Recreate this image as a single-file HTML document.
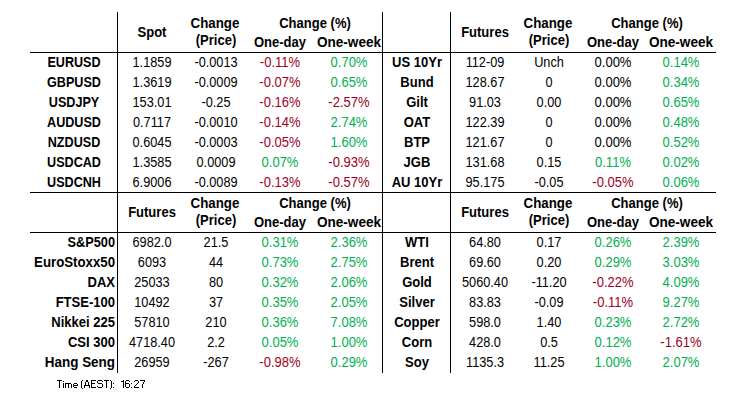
<!DOCTYPE html>
<html><head><meta charset="utf-8"><style>
html,body{margin:0;padding:0;background:#fff;}
body{width:733px;height:404px;position:relative;overflow:hidden;font-family:"Liberation Sans",sans-serif;font-size:14px;color:#000;}
.c{position:absolute;white-space:nowrap;height:20px;line-height:20px;text-align:center;transform-origin:center 0;}
.b{font-weight:bold;}
.ln{position:absolute;background:#000;}
.t{position:absolute;font-size:10px;line-height:20px;height:20px;white-space:nowrap;}
</style></head><body>
<div class="c b" style="left:71.9px;top:22px;width:160px;color:#000;transform:scaleX(0.93)">Spot</div>
<div class="c b" style="left:134.9px;top:13px;width:160px;color:#000;transform:scaleX(0.95)">Change</div>
<div class="c b" style="left:135.8px;top:30px;width:160px;color:#000;transform:scaleX(0.93)">(Price)</div>
<div class="c b" style="left:234.7px;top:13px;width:160px;color:#000;transform:scaleX(0.93)">Change (%)</div>
<div class="c b" style="left:200.3px;top:32px;width:160px;color:#000;transform:scaleX(0.93)">One-day</div>
<div class="c b" style="left:268.7px;top:32px;width:160px;color:#000;transform:scaleX(0.97)">One-week</div>
<div class="c b" style="left:404.9px;top:22px;width:160px;color:#000;transform:scaleX(0.93)">Futures</div>
<div class="c b" style="left:468px;top:13px;width:160px;color:#000;transform:scaleX(0.95)">Change</div>
<div class="c b" style="left:468.9px;top:30px;width:160px;color:#000;transform:scaleX(0.93)">(Price)</div>
<div class="c b" style="left:567.3px;top:13px;width:160px;color:#000;transform:scaleX(0.93)">Change (%)</div>
<div class="c b" style="left:533.3px;top:32px;width:160px;color:#000;transform:scaleX(0.93)">One-day</div>
<div class="c b" style="left:601.1px;top:32px;width:160px;color:#000;transform:scaleX(0.97)">One-week</div>
<div class="c b" style="left:-5.8px;top:52px;width:160px;color:#000;transform:scaleX(0.9)">EURUSD</div>
<div class="c" style="left:71.9px;top:52px;width:160px;color:#000;transform:scaleX(0.91)">1.1859</div>
<div class="c" style="left:135.8px;top:52px;width:160px;color:#000;transform:scaleX(0.91)">-0.0013</div>
<div class="c" style="left:200.3px;top:52px;width:160px;color:#A0001E;transform:scaleX(0.93)">-0.11%</div>
<div class="c" style="left:268.7px;top:52px;width:160px;color:#00B050;transform:scaleX(0.93)">0.70%</div>
<div class="c b" style="left:-5.8px;top:72px;width:160px;color:#000;transform:scaleX(0.9)">GBPUSD</div>
<div class="c" style="left:71.9px;top:72px;width:160px;color:#000;transform:scaleX(0.91)">1.3619</div>
<div class="c" style="left:135.8px;top:72px;width:160px;color:#000;transform:scaleX(0.91)">-0.0009</div>
<div class="c" style="left:200.3px;top:72px;width:160px;color:#A0001E;transform:scaleX(0.93)">-0.07%</div>
<div class="c" style="left:268.7px;top:72px;width:160px;color:#00B050;transform:scaleX(0.93)">0.65%</div>
<div class="c b" style="left:-5.8px;top:92px;width:160px;color:#000;transform:scaleX(0.9)">USDJPY</div>
<div class="c" style="left:71.9px;top:92px;width:160px;color:#000;transform:scaleX(0.91)">153.01</div>
<div class="c" style="left:135.8px;top:92px;width:160px;color:#000;transform:scaleX(0.91)">-0.25</div>
<div class="c" style="left:200.3px;top:92px;width:160px;color:#A0001E;transform:scaleX(0.93)">-0.16%</div>
<div class="c" style="left:268.7px;top:92px;width:160px;color:#A0001E;transform:scaleX(0.93)">-2.57%</div>
<div class="c b" style="left:-5.8px;top:112px;width:160px;color:#000;transform:scaleX(0.9)">AUDUSD</div>
<div class="c" style="left:71.9px;top:112px;width:160px;color:#000;transform:scaleX(0.91)">0.7117</div>
<div class="c" style="left:135.8px;top:112px;width:160px;color:#000;transform:scaleX(0.91)">-0.0010</div>
<div class="c" style="left:200.3px;top:112px;width:160px;color:#A0001E;transform:scaleX(0.93)">-0.14%</div>
<div class="c" style="left:268.7px;top:112px;width:160px;color:#00B050;transform:scaleX(0.93)">2.74%</div>
<div class="c b" style="left:-5.8px;top:132px;width:160px;color:#000;transform:scaleX(0.9)">NZDUSD</div>
<div class="c" style="left:71.9px;top:132px;width:160px;color:#000;transform:scaleX(0.91)">0.6045</div>
<div class="c" style="left:135.8px;top:132px;width:160px;color:#000;transform:scaleX(0.91)">-0.0003</div>
<div class="c" style="left:200.3px;top:132px;width:160px;color:#A0001E;transform:scaleX(0.93)">-0.05%</div>
<div class="c" style="left:268.7px;top:132px;width:160px;color:#00B050;transform:scaleX(0.93)">1.60%</div>
<div class="c b" style="left:-5.8px;top:152px;width:160px;color:#000;transform:scaleX(0.9)">USDCAD</div>
<div class="c" style="left:71.9px;top:152px;width:160px;color:#000;transform:scaleX(0.91)">1.3585</div>
<div class="c" style="left:135.8px;top:152px;width:160px;color:#000;transform:scaleX(0.91)">0.0009</div>
<div class="c" style="left:200.3px;top:152px;width:160px;color:#00B050;transform:scaleX(0.93)">0.07%</div>
<div class="c" style="left:268.7px;top:152px;width:160px;color:#A0001E;transform:scaleX(0.93)">-0.93%</div>
<div class="c b" style="left:-5.8px;top:172px;width:160px;color:#000;transform:scaleX(0.9)">USDCNH</div>
<div class="c" style="left:71.9px;top:172px;width:160px;color:#000;transform:scaleX(0.91)">6.9006</div>
<div class="c" style="left:135.8px;top:172px;width:160px;color:#000;transform:scaleX(0.91)">-0.0089</div>
<div class="c" style="left:200.3px;top:172px;width:160px;color:#A0001E;transform:scaleX(0.93)">-0.13%</div>
<div class="c" style="left:268.7px;top:172px;width:160px;color:#A0001E;transform:scaleX(0.93)">-0.57%</div>
<div class="c b" style="left:336.7px;top:52px;width:160px;color:#000;transform:scaleX(0.93)">US 10Yr</div>
<div class="c" style="left:404.9px;top:52px;width:160px;color:#000;transform:scaleX(0.91)">112-09</div>
<div class="c" style="left:468.9px;top:52px;width:160px;color:#000;transform:scaleX(0.91)">Unch</div>
<div class="c" style="left:533.3px;top:52px;width:160px;color:#000;transform:scaleX(0.93)">0.00%</div>
<div class="c" style="left:601.1px;top:52px;width:160px;color:#00B050;transform:scaleX(0.93)">0.14%</div>
<div class="c b" style="left:336.7px;top:72px;width:160px;color:#000;transform:scaleX(0.93)">Bund</div>
<div class="c" style="left:404.9px;top:72px;width:160px;color:#000;transform:scaleX(0.91)">128.67</div>
<div class="c" style="left:468.9px;top:72px;width:160px;color:#000;transform:scaleX(0.91)">0</div>
<div class="c" style="left:533.3px;top:72px;width:160px;color:#000;transform:scaleX(0.93)">0.00%</div>
<div class="c" style="left:601.1px;top:72px;width:160px;color:#00B050;transform:scaleX(0.93)">0.34%</div>
<div class="c b" style="left:336.7px;top:92px;width:160px;color:#000;transform:scaleX(0.93)">Gilt</div>
<div class="c" style="left:404.9px;top:92px;width:160px;color:#000;transform:scaleX(0.91)">91.03</div>
<div class="c" style="left:468.9px;top:92px;width:160px;color:#000;transform:scaleX(0.91)">0.00</div>
<div class="c" style="left:533.3px;top:92px;width:160px;color:#000;transform:scaleX(0.93)">0.00%</div>
<div class="c" style="left:601.1px;top:92px;width:160px;color:#00B050;transform:scaleX(0.93)">0.65%</div>
<div class="c b" style="left:336.7px;top:112px;width:160px;color:#000;transform:scaleX(0.93)">OAT</div>
<div class="c" style="left:404.9px;top:112px;width:160px;color:#000;transform:scaleX(0.91)">122.39</div>
<div class="c" style="left:468.9px;top:112px;width:160px;color:#000;transform:scaleX(0.91)">0</div>
<div class="c" style="left:533.3px;top:112px;width:160px;color:#000;transform:scaleX(0.93)">0.00%</div>
<div class="c" style="left:601.1px;top:112px;width:160px;color:#00B050;transform:scaleX(0.93)">0.48%</div>
<div class="c b" style="left:336.7px;top:132px;width:160px;color:#000;transform:scaleX(0.93)">BTP</div>
<div class="c" style="left:404.9px;top:132px;width:160px;color:#000;transform:scaleX(0.91)">121.67</div>
<div class="c" style="left:468.9px;top:132px;width:160px;color:#000;transform:scaleX(0.91)">0</div>
<div class="c" style="left:533.3px;top:132px;width:160px;color:#000;transform:scaleX(0.93)">0.00%</div>
<div class="c" style="left:601.1px;top:132px;width:160px;color:#00B050;transform:scaleX(0.93)">0.52%</div>
<div class="c b" style="left:336.7px;top:152px;width:160px;color:#000;transform:scaleX(0.93)">JGB</div>
<div class="c" style="left:404.9px;top:152px;width:160px;color:#000;transform:scaleX(0.91)">131.68</div>
<div class="c" style="left:468.9px;top:152px;width:160px;color:#000;transform:scaleX(0.91)">0.15</div>
<div class="c" style="left:533.3px;top:152px;width:160px;color:#00B050;transform:scaleX(0.93)">0.11%</div>
<div class="c" style="left:601.1px;top:152px;width:160px;color:#00B050;transform:scaleX(0.93)">0.02%</div>
<div class="c b" style="left:336.7px;top:172px;width:160px;color:#000;transform:scaleX(0.93)">AU 10Yr</div>
<div class="c" style="left:404.9px;top:172px;width:160px;color:#000;transform:scaleX(0.91)">95.175</div>
<div class="c" style="left:468.9px;top:172px;width:160px;color:#000;transform:scaleX(0.91)">-0.05</div>
<div class="c" style="left:533.3px;top:172px;width:160px;color:#A0001E;transform:scaleX(0.93)">-0.05%</div>
<div class="c" style="left:601.1px;top:172px;width:160px;color:#00B050;transform:scaleX(0.93)">0.06%</div>
<div class="c b" style="left:71.9px;top:202px;width:160px;color:#000;transform:scaleX(0.93)">Futures</div>
<div class="c b" style="left:134.9px;top:193px;width:160px;color:#000;transform:scaleX(0.95)">Change</div>
<div class="c b" style="left:135.8px;top:210px;width:160px;color:#000;transform:scaleX(0.93)">(Price)</div>
<div class="c b" style="left:234.7px;top:193px;width:160px;color:#000;transform:scaleX(0.93)">Change (%)</div>
<div class="c b" style="left:200.3px;top:212px;width:160px;color:#000;transform:scaleX(0.93)">One-day</div>
<div class="c b" style="left:268.7px;top:212px;width:160px;color:#000;transform:scaleX(0.97)">One-week</div>
<div class="c b" style="left:404.9px;top:202px;width:160px;color:#000;transform:scaleX(0.93)">Futures</div>
<div class="c b" style="left:468px;top:193px;width:160px;color:#000;transform:scaleX(0.95)">Change</div>
<div class="c b" style="left:468.9px;top:210px;width:160px;color:#000;transform:scaleX(0.93)">(Price)</div>
<div class="c b" style="left:567.3px;top:193px;width:160px;color:#000;transform:scaleX(0.93)">Change (%)</div>
<div class="c b" style="left:533.3px;top:212px;width:160px;color:#000;transform:scaleX(0.93)">One-day</div>
<div class="c b" style="left:601.1px;top:212px;width:160px;color:#000;transform:scaleX(0.97)">One-week</div>
<div class="c b" style="left:-44.8px;top:232px;width:160px;text-align:right;transform-origin:right 0;color:#000;transform:scaleX(0.91)">S&amp;P500</div>
<div class="c" style="left:71.9px;top:232px;width:160px;color:#000;transform:scaleX(0.91)">6982.0</div>
<div class="c" style="left:135.8px;top:232px;width:160px;color:#000;transform:scaleX(0.91)">21.5</div>
<div class="c" style="left:200.3px;top:232px;width:160px;color:#00B050;transform:scaleX(0.93)">0.31%</div>
<div class="c" style="left:268.7px;top:232px;width:160px;color:#00B050;transform:scaleX(0.93)">2.36%</div>
<div class="c b" style="left:-44.8px;top:252px;width:160px;text-align:right;transform-origin:right 0;color:#000;transform:scaleX(0.945)">EuroStoxx50</div>
<div class="c" style="left:71.9px;top:252px;width:160px;color:#000;transform:scaleX(0.91)">6093</div>
<div class="c" style="left:135.8px;top:252px;width:160px;color:#000;transform:scaleX(0.91)">44</div>
<div class="c" style="left:200.3px;top:252px;width:160px;color:#00B050;transform:scaleX(0.93)">0.73%</div>
<div class="c" style="left:268.7px;top:252px;width:160px;color:#00B050;transform:scaleX(0.93)">2.75%</div>
<div class="c b" style="left:-44.8px;top:272px;width:160px;text-align:right;transform-origin:right 0;color:#000;transform:scaleX(0.93)">DAX</div>
<div class="c" style="left:71.9px;top:272px;width:160px;color:#000;transform:scaleX(0.91)">25033</div>
<div class="c" style="left:135.8px;top:272px;width:160px;color:#000;transform:scaleX(0.91)">80</div>
<div class="c" style="left:200.3px;top:272px;width:160px;color:#00B050;transform:scaleX(0.93)">0.32%</div>
<div class="c" style="left:268.7px;top:272px;width:160px;color:#00B050;transform:scaleX(0.93)">2.06%</div>
<div class="c b" style="left:-44.8px;top:292px;width:160px;text-align:right;transform-origin:right 0;color:#000;transform:scaleX(0.93)">FTSE-100</div>
<div class="c" style="left:71.9px;top:292px;width:160px;color:#000;transform:scaleX(0.91)">10492</div>
<div class="c" style="left:135.8px;top:292px;width:160px;color:#000;transform:scaleX(0.91)">37</div>
<div class="c" style="left:200.3px;top:292px;width:160px;color:#00B050;transform:scaleX(0.93)">0.35%</div>
<div class="c" style="left:268.7px;top:292px;width:160px;color:#00B050;transform:scaleX(0.93)">2.05%</div>
<div class="c b" style="left:-44.8px;top:312px;width:160px;text-align:right;transform-origin:right 0;color:#000;transform:scaleX(0.93)">Nikkei 225</div>
<div class="c" style="left:71.9px;top:312px;width:160px;color:#000;transform:scaleX(0.91)">57810</div>
<div class="c" style="left:135.8px;top:312px;width:160px;color:#000;transform:scaleX(0.91)">210</div>
<div class="c" style="left:200.3px;top:312px;width:160px;color:#00B050;transform:scaleX(0.93)">0.36%</div>
<div class="c" style="left:268.7px;top:312px;width:160px;color:#00B050;transform:scaleX(0.93)">7.08%</div>
<div class="c b" style="left:-44.8px;top:332px;width:160px;text-align:right;transform-origin:right 0;color:#000;transform:scaleX(0.93)">CSI 300</div>
<div class="c" style="left:71.9px;top:332px;width:160px;color:#000;transform:scaleX(0.91)">4718.40</div>
<div class="c" style="left:135.8px;top:332px;width:160px;color:#000;transform:scaleX(0.91)">2.2</div>
<div class="c" style="left:200.3px;top:332px;width:160px;color:#00B050;transform:scaleX(0.93)">0.05%</div>
<div class="c" style="left:268.7px;top:332px;width:160px;color:#00B050;transform:scaleX(0.93)">1.00%</div>
<div class="c b" style="left:-44.8px;top:352px;width:160px;text-align:right;transform-origin:right 0;color:#000;transform:scaleX(0.96)">Hang Seng</div>
<div class="c" style="left:71.9px;top:352px;width:160px;color:#000;transform:scaleX(0.91)">26959</div>
<div class="c" style="left:135.8px;top:352px;width:160px;color:#000;transform:scaleX(0.91)">-267</div>
<div class="c" style="left:200.3px;top:352px;width:160px;color:#A0001E;transform:scaleX(0.93)">-0.98%</div>
<div class="c" style="left:268.7px;top:352px;width:160px;color:#00B050;transform:scaleX(0.93)">0.29%</div>
<div class="c b" style="left:336.7px;top:232px;width:160px;color:#000;transform:scaleX(0.93)">WTI</div>
<div class="c" style="left:404.9px;top:232px;width:160px;color:#000;transform:scaleX(0.91)">64.80</div>
<div class="c" style="left:468.9px;top:232px;width:160px;color:#000;transform:scaleX(0.91)">0.17</div>
<div class="c" style="left:533.3px;top:232px;width:160px;color:#00B050;transform:scaleX(0.93)">0.26%</div>
<div class="c" style="left:601.1px;top:232px;width:160px;color:#00B050;transform:scaleX(0.93)">2.39%</div>
<div class="c b" style="left:336.7px;top:252px;width:160px;color:#000;transform:scaleX(0.93)">Brent</div>
<div class="c" style="left:404.9px;top:252px;width:160px;color:#000;transform:scaleX(0.91)">69.60</div>
<div class="c" style="left:468.9px;top:252px;width:160px;color:#000;transform:scaleX(0.91)">0.20</div>
<div class="c" style="left:533.3px;top:252px;width:160px;color:#00B050;transform:scaleX(0.93)">0.29%</div>
<div class="c" style="left:601.1px;top:252px;width:160px;color:#00B050;transform:scaleX(0.93)">3.03%</div>
<div class="c b" style="left:336.7px;top:272px;width:160px;color:#000;transform:scaleX(0.93)">Gold</div>
<div class="c" style="left:404.9px;top:272px;width:160px;color:#000;transform:scaleX(0.91)">5060.40</div>
<div class="c" style="left:468.9px;top:272px;width:160px;color:#000;transform:scaleX(0.91)">-11.20</div>
<div class="c" style="left:533.3px;top:272px;width:160px;color:#A0001E;transform:scaleX(0.93)">-0.22%</div>
<div class="c" style="left:601.1px;top:272px;width:160px;color:#00B050;transform:scaleX(0.93)">4.09%</div>
<div class="c b" style="left:336.7px;top:292px;width:160px;color:#000;transform:scaleX(0.93)">Silver</div>
<div class="c" style="left:404.9px;top:292px;width:160px;color:#000;transform:scaleX(0.91)">83.83</div>
<div class="c" style="left:468.9px;top:292px;width:160px;color:#000;transform:scaleX(0.91)">-0.09</div>
<div class="c" style="left:533.3px;top:292px;width:160px;color:#A0001E;transform:scaleX(0.93)">-0.11%</div>
<div class="c" style="left:601.1px;top:292px;width:160px;color:#00B050;transform:scaleX(0.93)">9.27%</div>
<div class="c b" style="left:336.7px;top:312px;width:160px;color:#000;transform:scaleX(0.93)">Copper</div>
<div class="c" style="left:404.9px;top:312px;width:160px;color:#000;transform:scaleX(0.91)">598.0</div>
<div class="c" style="left:468.9px;top:312px;width:160px;color:#000;transform:scaleX(0.91)">1.40</div>
<div class="c" style="left:533.3px;top:312px;width:160px;color:#00B050;transform:scaleX(0.93)">0.23%</div>
<div class="c" style="left:601.1px;top:312px;width:160px;color:#00B050;transform:scaleX(0.93)">2.72%</div>
<div class="c b" style="left:336.7px;top:332px;width:160px;color:#000;transform:scaleX(0.93)">Corn</div>
<div class="c" style="left:404.9px;top:332px;width:160px;color:#000;transform:scaleX(0.91)">428.0</div>
<div class="c" style="left:468.9px;top:332px;width:160px;color:#000;transform:scaleX(0.91)">0.5</div>
<div class="c" style="left:533.3px;top:332px;width:160px;color:#00B050;transform:scaleX(0.93)">0.12%</div>
<div class="c" style="left:601.1px;top:332px;width:160px;color:#A0001E;transform:scaleX(0.93)">-1.61%</div>
<div class="c b" style="left:336.7px;top:352px;width:160px;color:#000;transform:scaleX(0.93)">Soy</div>
<div class="c" style="left:404.9px;top:352px;width:160px;color:#000;transform:scaleX(0.91)">1135.3</div>
<div class="c" style="left:468.9px;top:352px;width:160px;color:#000;transform:scaleX(0.91)">11.25</div>
<div class="c" style="left:533.3px;top:352px;width:160px;color:#00B050;transform:scaleX(0.93)">1.00%</div>
<div class="c" style="left:601.1px;top:352px;width:160px;color:#00B050;transform:scaleX(0.93)">2.07%</div>
<div class="ln" style="left:30px;top:52px;width:686px;height:1px"></div>
<div class="ln" style="left:30px;top:192px;width:686px;height:1px"></div>
<div class="ln" style="left:30px;top:232px;width:686px;height:1px"></div>
<div class="ln" style="left:117px;top:12px;width:1px;height:361px"></div>
<div class="ln" style="left:382px;top:12px;width:1px;height:361px"></div>
<div class="ln" style="left:450px;top:12px;width:1px;height:361px"></div>
<svg style="position:absolute;left:56px;top:379px" width="92" height="12" viewBox="0 0 92 12" shape-rendering="crispEdges"><path d="M1 1h5v1h-5zM26 1h1v1h-1zM30 1h2v1h-2zM35 1h5v1h-5zM42 1h4v1h-4zM48 1h5v1h-5zM54 1h1v1h-1zM67 1h1v1h-1zM70 1h3v1h-3zM79 1h3v1h-3zM84 1h5v1h-5zM3 2h1v1h-1zM7 2h1v1h-1zM25 2h1v1h-1zM30 2h2v1h-2zM35 2h1v1h-1zM41 2h1v1h-1zM46 2h1v1h-1zM50 2h1v1h-1zM55 2h1v1h-1zM65 2h3v1h-3zM69 2h1v1h-1zM73 2h1v1h-1zM78 2h1v1h-1zM82 2h1v1h-1zM88 2h1v1h-1zM3 3h1v1h-1zM25 3h1v1h-1zM29 3h1v1h-1zM32 3h1v1h-1zM35 3h1v1h-1zM41 3h1v1h-1zM50 3h1v1h-1zM55 3h1v1h-1zM67 3h1v1h-1zM69 3h1v1h-1zM82 3h1v1h-1zM87 3h1v1h-1zM3 4h1v1h-1zM7 4h1v1h-1zM9 4h6v1h-6zM18 4h3v1h-3zM25 4h1v1h-1zM29 4h1v1h-1zM32 4h1v1h-1zM35 4h4v1h-4zM42 4h4v1h-4zM50 4h1v1h-1zM55 4h1v1h-1zM57 4h1v1h-1zM67 4h1v1h-1zM69 4h4v1h-4zM75 4h1v1h-1zM81 4h1v1h-1zM87 4h1v1h-1zM3 5h1v1h-1zM7 5h1v1h-1zM9 5h1v1h-1zM12 5h1v1h-1zM15 5h1v1h-1zM17 5h1v1h-1zM21 5h1v1h-1zM25 5h1v1h-1zM29 5h1v1h-1zM32 5h1v1h-1zM35 5h1v1h-1zM46 5h1v1h-1zM50 5h1v1h-1zM55 5h1v1h-1zM67 5h1v1h-1zM69 5h1v1h-1zM73 5h1v1h-1zM80 5h1v1h-1zM86 5h1v1h-1zM3 6h1v1h-1zM7 6h1v1h-1zM9 6h1v1h-1zM12 6h1v1h-1zM15 6h1v1h-1zM17 6h5v1h-5zM25 6h1v1h-1zM28 6h6v1h-6zM35 6h1v1h-1zM46 6h1v1h-1zM50 6h1v1h-1zM55 6h1v1h-1zM67 6h1v1h-1zM69 6h1v1h-1zM73 6h1v1h-1zM79 6h1v1h-1zM86 6h1v1h-1zM3 7h1v1h-1zM7 7h1v1h-1zM9 7h1v1h-1zM12 7h1v1h-1zM15 7h1v1h-1zM17 7h1v1h-1zM25 7h1v1h-1zM28 7h1v1h-1zM33 7h1v1h-1zM35 7h1v1h-1zM41 7h1v1h-1zM46 7h1v1h-1zM50 7h1v1h-1zM55 7h1v1h-1zM67 7h1v1h-1zM69 7h1v1h-1zM73 7h1v1h-1zM78 7h1v1h-1zM86 7h1v1h-1zM3 8h1v1h-1zM7 8h1v1h-1zM9 8h1v1h-1zM12 8h1v1h-1zM15 8h1v1h-1zM18 8h3v1h-3zM25 8h1v1h-1zM28 8h1v1h-1zM33 8h1v1h-1zM35 8h5v1h-5zM42 8h4v1h-4zM50 8h1v1h-1zM55 8h1v1h-1zM57 8h1v1h-1zM67 8h1v1h-1zM70 8h3v1h-3zM75 8h1v1h-1zM78 8h5v1h-5zM86 8h1v1h-1zM26 9h1v1h-1zM54 9h1v1h-1z" fill="#000"/></svg>
</body></html>
